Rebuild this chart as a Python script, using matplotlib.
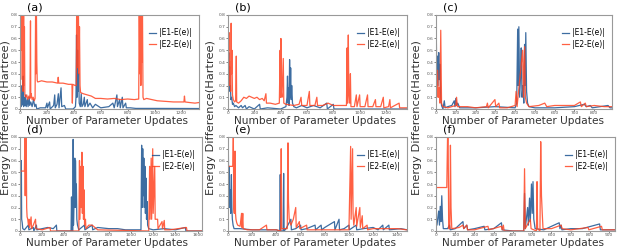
import numpy as np
import matplotlib.pyplot as plt

# (update, |E - E(e)|) vertices
a_e1 = [(0,0.10),(4,0.13),(7,0.02),(10,0.12),(13,0.03),(16,0.20),(19,0.04),(24,0.28),(27,0.02),(32,0.10),(36,0.03),
        (42,0.12),(46,0.02),(55,0.08),(60,0.02),(68,0.10),(72,0.03),(80,0.06),(90,0.02),(100,0.08),(110,0.02),(118,0.04),
        (125,0.00),(150,0.01),(190,0.01),(200,0.05),(204,0.01),(220,0.06),(224,0.00),(250,0.03),(258,0.12),(262,0.01),
        (275,0.04),(285,0.13),(290,0.01),(305,0.18),(310,0.02),(330,0.03),(340,0.00),(395,0.00),(412,0.02),(416,0.10),
        (420,0.63),(424,0.10),(428,0.50),(432,0.15),(436,0.30),(440,0.05),(448,0.02),(455,0.13),(460,0.02),(470,0.04),
        (478,0.10),(482,0.02),(500,0.08),(504,0.02),(520,0.05),(540,0.01),(560,0.04),(600,0.01),(660,0.02),(690,0.05),
        (700,0.01),(720,0.12),(724,0.02),(740,0.08),(745,0.01),(760,0.10),(765,0.01),(785,0.05),(790,0.01),(820,0.01),
        (860,0.005),(1000,0.005),(1330,0.004)]
a_e2 = [(0,0.50),(12,0.50),(14,0.85),(17,0.25),(20,0.85),(23,0.15),(27,0.85),(30,0.20),(33,0.70),(36,0.12),(42,0.10),
        (50,0.12),(58,0.08),(66,0.11),(74,0.09),(78,0.75),(80,0.10),(83,0.13),(90,0.08),(98,0.10),(106,0.07),(112,0.09),
        (116,0.85),(119,0.30),(122,0.85),(125,0.40),(128,0.24),(132,0.23),(160,0.24),(200,0.23),(240,0.23),(280,0.22),
        (284,0.27),(288,0.22),(320,0.22),(360,0.21),(386,0.21),(389,0.05),(392,0.21),(410,0.20),(418,0.20),(421,0.85),
        (424,0.35),(427,0.85),(430,0.50),(434,0.85),(438,0.30),(442,0.70),(446,0.20),(450,0.14),(470,0.13),(500,0.12),
        (530,0.11),(560,0.09),(600,0.09),(650,0.085),(700,0.09),(750,0.08),(800,0.085),(850,0.08),(882,0.085),(886,0.85),
        (890,0.30),(894,0.85),(898,0.20),(902,0.85),(906,0.40),(910,0.85),(914,0.10),(920,0.08),(940,0.09),(980,0.08),
        (1020,0.07),(1080,0.065),(1140,0.06),(1190,0.06),(1218,0.06),(1222,0.11),(1226,0.06),(1260,0.055),(1300,0.05),
        (1330,0.055)]

b_e1 = [(0,0.50),(3,0.40),(6,0.48),(9,0.30),(12,0.36),(15,0.15),(18,0.20),(22,0.08),(28,0.10),(34,0.04),(40,0.05),
        (50,0.02),(60,0.03),(80,0.01),(100,0.03),(110,0.01),(130,0.03),(140,0.00),(160,0.02),(200,0.00),(240,0.04),
        (245,0.00),(300,0.01),(400,0.00),(440,0.02),(448,0.10),(452,0.28),(456,0.05),(460,0.18),(464,0.03),(468,0.42),
        (472,0.10),(476,0.35),(480,0.08),(484,0.20),(490,0.05),(500,0.02),(520,0.01),(560,0.03),(600,0.01),(650,0.03),
        (700,0.01),(750,0.05),(755,0.00),(800,0.04),(805,0.00),(1360,0.00)]
b_e2 = [(0,0.50),(5,0.50),(8,0.65),(11,0.20),(16,0.40),(20,0.15),(24,0.73),(27,0.30),(30,0.50),(34,0.12),(40,0.08),
        (50,0.06),(58,0.07),(63,0.45),(66,0.06),(80,0.05),(100,0.07),(120,0.10),(140,0.09),(160,0.11),(180,0.10),
        (200,0.09),(220,0.10),(240,0.08),(260,0.09),(275,0.07),(288,0.13),(292,0.05),(320,0.05),(360,0.04),(390,0.05),
        (396,0.50),(399,0.10),(402,0.60),(405,0.15),(410,0.10),(420,0.43),(424,0.05),(440,0.04),(500,0.03),(540,0.04),
        (555,0.10),(560,0.03),(600,0.03),(618,0.15),(622,0.03),(660,0.03),(675,0.10),(680,0.03),(720,0.03),(760,0.05),
        (800,0.03),(850,0.03),(900,0.03),(905,0.52),(909,0.05),(914,0.63),(918,0.15),(925,0.05),(930,0.30),(934,0.02),
        (960,0.02),(975,0.12),(980,0.02),(1000,0.12),(1004,0.02),(1040,0.02),(1060,0.12),(1064,0.02),(1100,0.02),
        (1120,0.08),(1124,0.02),(1160,0.02),(1180,0.10),(1184,0.01),(1220,0.02),(1230,0.08),(1234,0.01),(1300,0.05),
        (1304,0.01),(1360,0.01)]

c_e1 = [(0,0.80),(2,0.55),(4,0.30),(7,0.45),(10,0.20),(14,0.48),(17,0.25),(20,0.38),(24,0.10),(28,0.03),(35,0.00),
        (42,0.07),(46,0.01),(60,0.02),(80,0.03),(92,0.07),(96,0.02),(100,0.09),(104,0.03),(110,0.05),(120,0.01),
        (200,0.01),(300,0.02),(400,0.01),(408,0.05),(413,0.68),(416,0.20),(419,0.70),(423,0.10),(428,0.30),(431,0.52),
        (435,0.10),(440,0.20),(444,0.05),(448,0.55),(451,0.20),(454,0.65),(458,0.15),(463,0.05),(470,0.02),(500,0.01),
        (600,0.01),(700,0.02),(750,0.04),(760,0.02),(780,0.03),(790,0.01),(870,0.03),(880,0.01),(890,0.01)]
c_e2 = [(0,0.20),(4,0.10),(8,0.33),(12,0.10),(16,0.18),(20,0.05),(24,0.67),(28,0.05),(34,0.02),(60,0.01),(100,0.03),
        (104,0.10),(108,0.02),(160,0.02),(200,0.01),(255,0.02),(260,0.05),(264,0.01),(298,0.08),(302,0.02),(318,0.05),
        (322,0.01),(360,0.01),(400,0.03),(405,0.15),(410,0.02),(438,0.50),(442,0.10),(448,0.53),(452,0.10),(458,0.05),
        (470,0.02),(520,0.03),(550,0.05),(560,0.02),(600,0.03),(650,0.03),(700,0.03),(730,0.06),(735,0.02),(755,0.05),
        (760,0.02),(800,0.03),(850,0.02),(890,0.02)]

d_e1 = [(0,0.35),(4,0.20),(8,0.35),(12,0.60),(15,0.10),(20,0.07),(25,0.02),(40,0.01),(75,0.05),(80,0.01),(120,0.03),
        (125,0.00),(148,0.05),(152,0.01),(200,0.02),(250,0.03),(300,0.02),(328,0.05),(332,0.00),(460,0.00),(464,0.29),
        (468,0.00),(476,0.00),(479,0.78),(482,0.05),(490,0.40),(494,0.62),(497,0.20),(500,0.60),(504,0.30),(508,0.40),
        (512,0.10),(518,0.05),(530,0.01),(580,0.05),(585,0.01),(650,0.05),(655,0.01),(700,0.03),(800,0.02),(880,0.02),
        (950,0.01),(1090,0.01),(1096,0.73),(1100,0.20),(1106,0.70),(1110,0.30),(1116,0.62),(1120,0.20),(1126,0.55),
        (1130,0.15),(1136,0.45),(1140,0.10),(1146,0.25),(1150,0.05),(1160,0.02),(1200,0.01),(1300,0.02),(1400,0.01),
        (1490,0.03),(1495,0.00),(1640,0.00)]
d_e2 = [(0,0.51),(40,0.51),(44,0.85),(47,0.30),(50,0.85),(53,0.40),(56,0.85),(60,0.20),(64,0.12),(70,0.10),(76,0.05),
        (82,0.10),(86,0.03),(100,0.12),(104,0.02),(120,0.05),(140,0.10),(144,0.02),(200,0.01),(270,0.03),(275,0.00),
        (530,0.00),(536,0.60),(540,0.10),(548,0.55),(552,0.20),(558,0.67),(562,0.15),(568,0.55),(572,0.10),(578,0.35),
        (582,0.05),(590,0.10),(594,0.02),(620,0.05),(650,0.05),(700,0.01),(1160,0.00),(1168,0.55),(1172,0.10),
        (1182,0.62),(1186,0.10),(1196,0.70),(1200,0.15),(1214,0.55),(1218,0.10),(1240,0.10),(1244,0.02),(1280,0.08),
        (1284,0.02),(1300,0.09),(1304,0.01),(1350,0.01),(1500,0.03),(1505,0.00),(1640,0.00)]

e_e1 = [(0,0.65),(3,0.67),(6,0.30),(10,0.55),(14,0.20),(18,0.35),(22,0.15),(28,0.48),(32,0.20),(36,0.10),(42,0.05),
        (50,0.02),(100,0.02),(200,0.01),(300,0.01),(400,0.01),(428,0.00),(432,0.48),(436,0.00),(456,0.00),(460,0.49),
        (464,0.00),(480,0.02),(520,0.10),(524,0.01),(560,0.02),(600,0.05),(604,0.01),(650,0.02),(720,0.05),(724,0.01),
        (770,0.05),(774,0.01),(800,0.03),(880,0.08),(884,0.01),(918,0.10),(922,0.01),(960,0.02),(1000,0.05),(1004,0.01),
        (1060,0.05),(1064,0.01),(1120,0.02),(1200,0.03),(1240,0.01),(1280,0.05),(1284,0.01),(1330,0.05),(1334,0.01),
        (1430,0.02),(1480,0.01)]
e_e2 = [(0,0.55),(40,0.55),(44,0.80),(48,0.20),(52,0.15),(58,0.68),(62,0.15),(66,0.10),(72,0.07),(80,0.05),(100,0.04),
        (112,0.15),(116,0.03),(122,0.15),(126,0.02),(160,0.01),(260,0.01),(318,0.05),(322,0.01),(400,0.01),(436,0.00),
        (440,0.70),(444,0.02),(490,0.02),(496,0.75),(500,0.25),(506,0.10),(520,0.05),(540,0.10),(560,0.20),(564,0.03),
        (590,0.08),(594,0.02),(650,0.05),(654,0.01),(700,0.01),(1000,0.01),(1014,0.72),(1018,0.10),(1030,0.70),
        (1034,0.15),(1040,0.05),(1060,0.20),(1064,0.04),(1090,0.20),(1094,0.03),(1110,0.13),(1114,0.02),(1150,0.05),
        (1154,0.01),(1200,0.02),(1400,0.02),(1480,0.01)]

f_e1 = [(0,0.10),(5,0.05),(10,0.12),(14,0.17),(18,0.05),(22,0.21),(26,0.08),(30,0.30),(34,0.10),(38,0.02),(60,0.02),
        (70,0.05),(74,0.01),(100,0.02),(140,0.08),(144,0.02),(160,0.05),(164,0.01),(200,0.02),(250,0.04),(254,0.01),
        (300,0.02),(340,0.07),(344,0.01),(400,0.00),(456,0.00),(460,0.32),(464,0.02),(476,0.20),(480,0.05),(486,0.28),
        (490,0.08),(496,0.40),(500,0.15),(504,0.42),(508,0.10),(515,0.02),(560,0.01),(640,0.07),(644,0.02),(650,0.05),
        (654,0.01),(700,0.02),(760,0.02),(850,0.06),(854,0.01),(930,0.01)]
f_e2 = [(0,0.37),(56,0.37),(60,0.80),(63,0.80),(66,0.02),(72,0.02),(75,0.73),(78,0.20),(82,0.02),(120,0.03),(140,0.05),
        (144,0.02),(160,0.05),(164,0.01),(200,0.01),(270,0.04),(274,0.01),(340,0.04),(344,0.01),(350,0.05),(354,0.00),
        (456,0.00),(460,0.53),(464,0.02),(490,0.10),(494,0.02),(522,0.00),(525,0.42),(528,0.02),(540,0.00),(544,0.76),
        (548,0.30),(552,0.15),(556,0.02),(600,0.02),(650,0.05),(655,0.02),(700,0.01),(790,0.03),(794,0.01),(860,0.04),
        (864,0.01),(930,0.01)]

labels = ["(a)", "(b)", "(c)", "(d)", "(e)", "(f)"]
x_max = [1330, 1360, 890, 1640, 1480, 930]
x_step = [200, 200, 100, 200, 200, 100]
series = [(a_e1, a_e2), (b_e1, b_e2), (c_e1, c_e2), (d_e1, d_e2), (e_e1, e_e2), (f_e1, f_e2)]

# axes boxes in pixels: left, top, right, bottom
boxes = [(20, 15, 199, 109), (228, 15, 407, 109), (436, 15, 612, 109),
         (20, 137, 202, 231), (228, 137, 407, 231), (436, 137, 615, 231)]
W, H = 622, 252
blue = "#1b5391"
red = "#ff4422"

fig = plt.figure(figsize=(W/100, H/100), dpi=100)
for i in range(6):
    l, t, r, b = boxes[i]
    ax = fig.add_axes([l/W, 1-b/H, (r-l)/W, (b-t)/H])
    e1 = np.array(series[i][0])
    e2 = np.array(series[i][1])
    ax.plot(e1[:, 0], e1[:, 1], color=blue, lw=0.9, alpha=0.85, label="|E1-E(e)|")
    ax.plot(e2[:, 0], e2[:, 1], color=red, lw=0.9, alpha=0.85, label="|E2-E(e)|")
    ax.set_xlim(0, x_max[i])
    ax.set_ylim(0, 0.8)
    ax.set_xticks(np.arange(0, x_max[i]+1, x_step[i]))
    ax.set_yticks(np.arange(0, 0.81, 0.1))
    ax.set_yticklabels(["0"] + ["%.1f" % v for v in np.arange(0.1, 0.81, 0.1)])
    ax.tick_params(labelsize=3.2, length=1.2, width=0.5, pad=0.6, colors="#555555")
    for s in ax.spines.values():
        s.set_color("#999999")
        s.set_linewidth(0.8)
    ax.legend(loc="center right", bbox_to_anchor=(1.0, 0.75), frameon=False,
              fontsize=5.5, handlelength=1.0, handletextpad=0.4, labelspacing=0.3)
    fig.text((l + 7)/W, 1-(t-8)/H, labels[i], fontsize=8, ha="left", va="center")
    fig.text((l + 87)/W, 1-(b+11.5)/H, "Number of Parameter Updates", fontsize=7.6,
             ha="center", va="center", color="#333333")

for xc in [6, 211, 417]:
    fig.text(xc/W, 1-118/H, "Energy Difference(Hartree)", rotation=90, fontsize=8.2,
             ha="center", va="center", color="#333333")

fig.savefig("out.png", dpi=100)
